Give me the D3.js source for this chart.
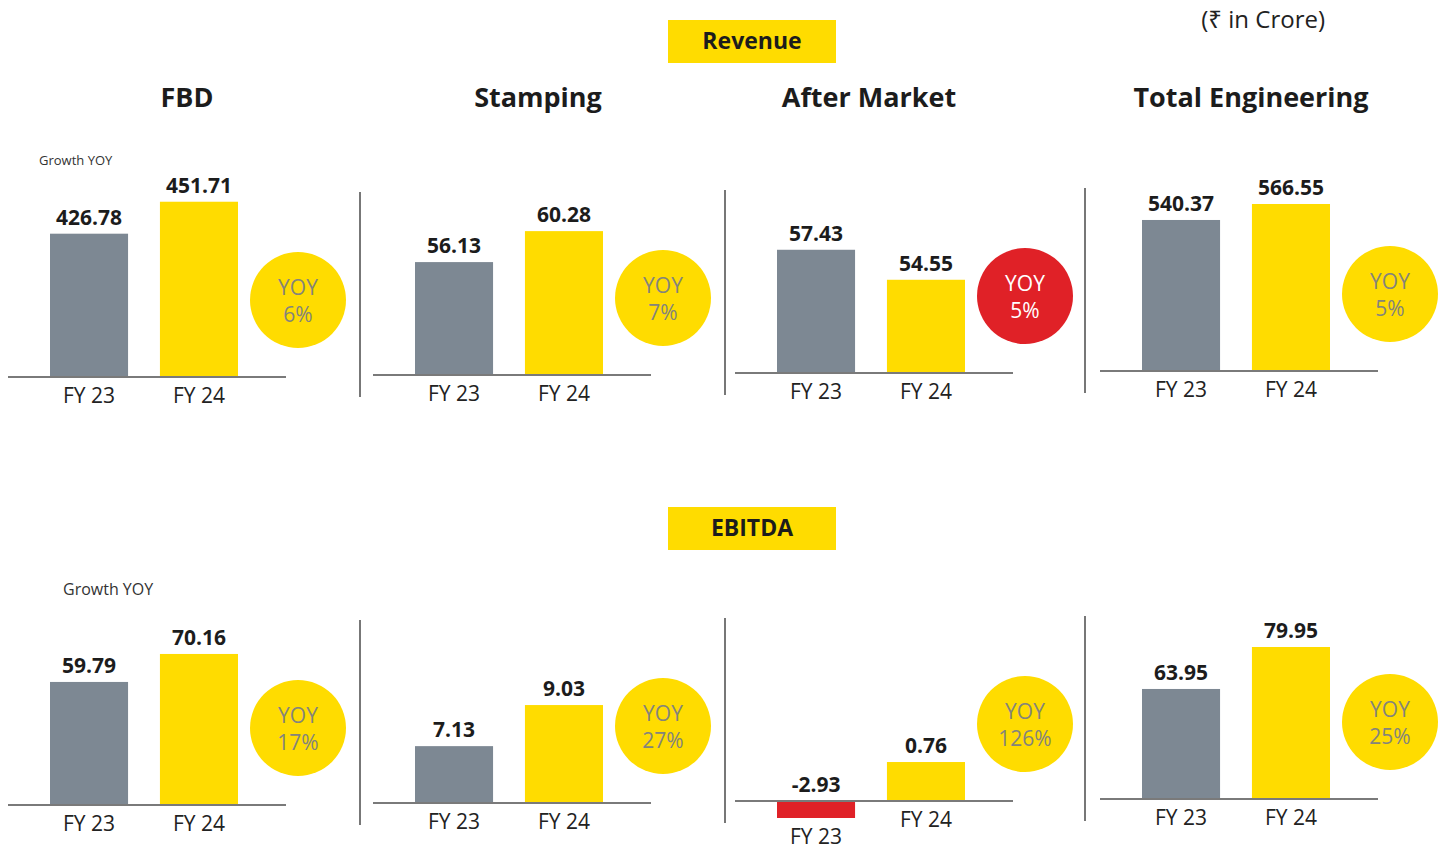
<!DOCTYPE html>
<html>
<head>
<meta charset="utf-8">
<script src="https://cdn.jsdelivr.net/npm/d3@7"></script>
<style>
    body { margin: 0; background: #fff; }
    svg { display: block; font-family: "Open Sans", "Noto Sans", sans-serif; }
</style>
</head>
<body>
<svg id="chart" width="1449" height="851"></svg>
<script>
// segments and years
var segments = ["FBD", "Stamping", "After Market", "Total Engineering"];
var years = ["FY 23", "FY 24"];

// revenue, Rs crore
var revenueFY23 = [426.78, 56.13, 57.43, 540.37];
var revenueFY24 = [451.71, 60.28, 54.55, 566.55];
var revenueYoY = ["6%", "7%", "5%", "5%"];

// ebitda, Rs crore
var ebitdaFY23 = [59.79, 7.13, -2.93, 63.95];
var ebitdaFY24 = [70.16, 9.03, 0.76, 79.95];
var ebitdaYoY = ["17%", "27%", "126%", "25%"];

// the (hidden) value axis of every small panel is truncated, one range each
var revenueAxis = [[315, 471], [41, 67.8], [45.6, 64.8], [293, 620.6]];
var ebitdaAxis = [[14.2, 88.3], [4.5, 13.75], [0, 3.9], [22, 98.25]];

var svg = d3.select("#chart");

var YELLOW = "#ffdc00", GREY = "#7d8893", RED = "#e02127";
var panelX = [8, 373, 735, 1100];
var sepX = [360, 725, 1085];
var titleX = [187, 538, 869, 1251];
var plotH = 200, negDepth = 17;

var x = d3.scaleBand().domain(years).range([42, 230]).paddingInner(0.29).paddingOuter(0);

function fmt(v) { return v.toFixed(2); }

function drawRow(name, fy23, fy24, yoy, axes, baseY, opts) {
    segments.forEach(function (seg, i) {
        var ox = panelX[i];
        var base = baseY - 2 * i;
        var vals = [fy23[i], fy24[i]];
        var lo = axes[i][0], hi = axes[i][1];
        var minV = d3.min(vals);

        var y = d3.scaleLinear();
        if (minV < 0) {
            y.domain([minV, 0, hi]).range([base + negDepth, base, base - plotH]);
        } else {
            y.domain([lo, hi]).range([base, base - plotH]);
        }
        var zero = minV < 0 ? 0 : lo;

        var g = svg.append("g").attr("transform", "translate(" + ox + ",0)");

        if (opts.titles) {
            svg.append("text")
                .attr("x", titleX[i]).attr("y", 107)
                .attr("text-anchor", "middle")
                .attr("font-size", 27).attr("font-weight", 700)
                .attr("fill", "#1c1c1c")
                .text(seg);
        }

        var data = vals.map(function (v, j) { return { year: years[j], v: v }; });

        g.selectAll("rect.bar")
            .data(data)
            .enter()
            .append("rect")
            .attr("class", "bar")
            .attr("x", function (d) { return x(d.year); })
            .attr("width", x.bandwidth())
            .attr("y", function (d) { return Math.min(y(d.v), y(zero)); })
            .attr("height", function (d) { return Math.abs(y(zero) - y(d.v)); })
            .attr("fill", function (d, j) {
                if (d.v < 0) return RED;
                return j === 0 ? GREY : YELLOW;
            });

        // baseline
        g.append("line")
            .attr("x1", 0).attr("x2", 278)
            .attr("y1", y(zero)).attr("y2", y(zero))
            .attr("stroke", "#7a7a7a").attr("stroke-width", 2);

        // value labels
        g.selectAll("text.val")
            .data(data)
            .enter()
            .append("text")
            .attr("class", "val")
            .attr("x", function (d) { return x(d.year) + x.bandwidth() / 2; })
            .attr("y", function (d) { return Math.min(y(d.v), y(zero)) - 9; })
            .attr("text-anchor", "middle")
            .attr("font-size", 21).attr("font-weight", 700)
            .attr("fill", "#1c1c1c")
            .text(function (d) { return fmt(d.v); });

        // year labels
        g.selectAll("text.yr")
            .data(data)
            .enter()
            .append("text")
            .attr("class", "yr")
            .attr("x", function (d) { return x(d.year) + x.bandwidth() / 2; })
            .attr("y", function (d) { return Math.max(y(d.v), y(zero)) + 26; })
            .attr("text-anchor", "middle")
            .attr("font-size", 21)
            .attr("fill", "#222")
            .text(function (d) { return d.year; });

        // yoy badge, red when the segment fell
        var fell = fy24[i] < fy23[i];
        var cy = base - 77;
        g.append("circle")
            .attr("cx", 290).attr("cy", cy).attr("r", 48)
            .attr("fill", fell ? RED : YELLOW);
        g.append("text")
            .attr("x", 290).attr("y", cy - 5)
            .attr("text-anchor", "middle")
            .attr("font-size", 21)
            .attr("fill", fell ? "#fff" : "#84847c")
            .text("YOY");
        g.append("text")
            .attr("x", 290).attr("y", cy + 22)
            .attr("text-anchor", "middle")
            .attr("font-size", 21)
            .attr("fill", fell ? "#fff" : "#84847c")
            .text(yoy[i]);

        // separators
        if (i > 0) {
            svg.append("line")
                .attr("x1", sepX[i - 1]).attr("x2", sepX[i - 1])
                .attr("y1", base - 183).attr("y2", base + 22)
                .attr("stroke", "#777").attr("stroke-width", 2);
        }
    });

    // row heading
    svg.append("rect")
        .attr("x", 668).attr("y", opts.headY)
        .attr("width", 168).attr("height", 43)
        .attr("fill", YELLOW);
    svg.append("text")
        .attr("x", 752).attr("y", opts.headY + 29)
        .attr("text-anchor", "middle")
        .attr("font-size", 23).attr("font-weight", 700)
        .attr("fill", "#1c1c1c")
        .text(name);

    svg.append("text")
        .attr("x", opts.growthX).attr("y", opts.growthY)
        .attr("font-size", opts.growthSize)
        .attr("fill", "#333")
        .text("Growth YOY");
}

drawRow("Revenue", revenueFY23, revenueFY24, revenueYoY, revenueAxis, 377,
    { titles: true, headY: 20, growthX: 39, growthY: 165, growthSize: 13 });
drawRow("EBITDA", ebitdaFY23, ebitdaFY24, ebitdaYoY, ebitdaAxis, 805,
    { titles: false, headY: 507, growthX: 63, growthY: 595, growthSize: 16 });

svg.append("text")
    .attr("x", 1325).attr("y", 28)
    .attr("text-anchor", "end")
    .attr("font-size", 24)
    .attr("fill", "#222")
    .text("(₹ in Crore)");
</script>
</body>
</html>
